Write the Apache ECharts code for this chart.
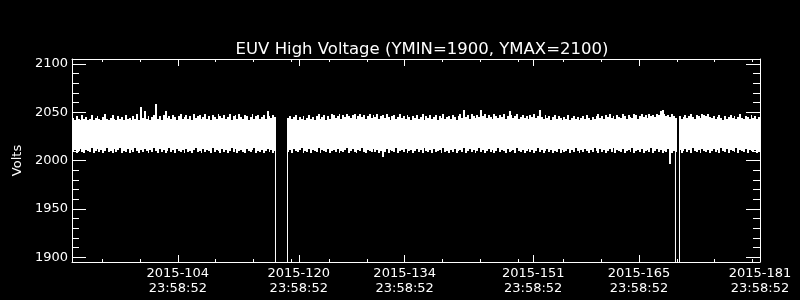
<!DOCTYPE html>
<html><head><meta charset="utf-8">
<script src="https://cdn.jsdelivr.net/npm/echarts@6/dist/echarts.min.js"></script>
<style>html,body{margin:0;padding:0;background:#000}#c{width:800px;height:300px}</style>
</head><body><div id="c"></div>
<script>
// ---------- data ----------
const titleText = 'EUV High Voltage (YMIN=1900, YMAX=2100)';
const yAxisName = 'Volts';
const xRange = [90, 181];            // day of year 2015
const yRange = [1895, 2105];         // volts
const xMajorTicks = [104, 120, 134, 151, 165, 181];
const xTickLabels = ['2015-104\n23:58:52', '2015-120\n23:58:52', '2015-134\n23:58:52',
                     '2015-151\n23:58:52', '2015-165\n23:58:52', '2015-181\n23:58:52'];
const xMinorTicks = [94, 99, 104, 109, 114, 119, 124, 129, 134, 139, 144, 149,
                     155, 160, 165, 170, 175, 180];
const yMajorTicks = [1900, 1950, 2000, 2050, 2100];
const yMinorTicks = [1900, 1910, 1920, 1930, 1940, 1950, 1960, 1970, 1980, 1990, 2000,
                     2010, 2020, 2030, 2040, 2050, 2060, 2070, 2080, 2090, 2100];
const binStartDay = 90;
const binDays = 0.25;
// per-bin maximum of the voltage readings
const bandHigh = [
2044,2042,2046,2043,2042,2047,2043,2045,2042,2043,2047,2042,2044,2046,2043,2042,2045,2048,2043,2042,
2044,2047,2043,2042,2046,2043,2045,2042,2047,2043,2044,2042,2046,2043,2048,2042,2055,2044,2051,2043,
2046,2042,2045,2047,2058,2043,2046,2042,2047,2051,2044,2046,2043,2047,2045,2042,2046,2048,2043,2045,
2047,2043,2046,2042,2048,2044,2046,2047,2043,2045,2048,2043,2046,2042,2047,2045,2043,2048,2046,2044,
2047,2043,2045,2048,2042,2046,2047,2043,2048,2045,2043,2047,2046,2042,2045,2048,2043,2046,2047,2043,
2045,2047,2043,2051,2046,2044,2047,2045,null,null,null,null,null,null,2044,2046,2043,2045,2047,2042,
2045,2043,2046,2042,2044,2047,2043,2045,2042,2046,2048,2043,2045,2047,2042,2046,2043,2048,2047,2044,
2046,2048,2043,2047,2045,2048,2046,2044,2047,2048,2043,2046,2048,2045,2047,2043,2046,2048,2044,2047,
2045,2048,2043,2046,2047,2044,2048,2045,2042,2046,2047,2043,2045,2048,2044,2046,2043,2047,2045,2042,
2046,2044,2047,2043,2045,2048,2042,2046,2044,2047,2043,2045,2047,2042,2046,2044,2048,2043,2045,2046,
2043,2047,2045,2042,2046,2048,2044,2052,2045,2047,2043,2048,2046,2044,2047,2045,2052,2046,2048,2044,
2047,2045,2043,2048,2046,2044,2047,2045,2048,2043,2046,2051,2047,2044,2046,2048,2043,2045,2047,2044,
2046,2043,2047,2045,2048,2044,2046,2052,2045,2043,2047,2044,2046,2042,2045,2047,2043,2046,2044,2042,
2045,2043,2047,2042,2044,2046,2043,2045,2042,2044,2046,2043,2047,2044,2042,2045,2043,2046,2048,2044,
2046,2043,2047,2045,2048,2044,2046,2043,2047,2045,2044,2048,2046,2043,2047,2045,2044,2048,2047,2043,
2046,2048,2045,2047,2044,2048,2046,2047,2045,2048,2047,2051,2052,2048,2046,2047,2045,2048,2046,2044,
null,2046,2043,2045,2047,2044,2046,2048,2045,2043,2047,2046,2044,2048,2047,2046,2048,2045,2044,2046,
2043,2045,2047,2044,2042,2046,2043,2045,2047,2044,2046,2043,2045,2048,2044,2043,2046,2045,2043,2047,
2044,2046,2043,2045
];
// per-bin minimum of the voltage readings
const bandLow = [
2009,2011,2008,2010,2012,2009,2008,2011,2010,2009,2013,2008,2010,2012,2009,2011,2008,2010,2013,2009,
2010,2008,2012,2009,2011,2013,2008,2010,2009,2012,2008,2011,2009,2013,2010,2008,2011,2009,2012,2010,
2008,2011,2009,2013,2010,2008,2012,2009,2011,2008,2010,2013,2009,2011,2008,2012,2010,2009,2011,2008,
2012,2009,2010,2008,2011,2013,2009,2010,2008,2012,2009,2011,2010,2008,2013,2009,2011,2010,2008,2012,
2009,2011,2008,2010,2013,2009,2012,2008,2010,2011,2009,2008,2012,2010,2009,2011,2013,2008,2010,2009,
2011,2008,2010,2012,2009,2011,2008,2010,null,null,null,null,null,null,2009,2011,2008,2012,2010,2009,
2011,2013,2008,2010,2009,2012,2008,2011,2010,2009,2013,2008,2011,2010,2009,2012,2008,2010,2011,2009,
2012,2008,2010,2009,2011,2013,2008,2010,2012,2009,2008,2011,2010,2013,2009,2008,2011,2010,2009,2012,
2009,2011,2008,2010,2004,2009,2012,2008,2011,2010,2009,2013,2008,2010,2011,2009,2012,2008,2010,2011,
2008,2010,2012,2009,2011,2008,2013,2010,2009,2011,2008,2012,2009,2010,2011,2008,2013,2009,2010,2008,
2011,2009,2012,2008,2010,2011,2009,2013,2008,2010,2012,2009,2011,2008,2010,2013,2009,2011,2008,2010,
2012,2009,2011,2008,2010,2013,2009,2011,2010,2008,2012,2009,2010,2011,2008,2013,2010,2009,2011,2008,
2010,2012,2009,2011,2008,2010,2013,2009,2011,2008,2010,2012,2009,2011,2008,2010,2009,2012,2008,2011,
2009,2010,2012,2008,2011,2009,2013,2010,2008,2011,2009,2012,2010,2008,2011,2009,2013,2010,2008,2012,
2009,2011,2008,2010,2012,2009,2013,2008,2011,2010,2009,2012,2008,2010,2011,2009,2013,2008,2010,2011,
2009,2012,2008,2010,2011,2009,2013,2008,2010,2012,2009,2011,2008,2010,2009,2012,1996,2008,2010,2009,
null,2011,2008,2010,2012,2009,2011,2008,2013,2010,2009,2011,2008,2012,2010,2009,2011,2008,2010,2012,
2009,2011,2008,2013,2010,2009,2012,2008,2011,2010,2009,2013,2008,2011,2010,2009,2012,2008,2011,2010,
2009,2011,2008,2010
];
// readings around the two data dropouts (voltage fell to 0)
const dropoutA = [[116.915, 2028], [116.917, 0], [118.502, 0], [118.504, 2028]];
const dropoutB = [[169.821, 2028], [169.823, 0], [170.350, 0], [170.352, 2028]];

// ---------- chart ----------
const bandData = [];
for (let i = 0; i < bandHigh.length; i++) {
  if (bandHigh[i] == null || bandLow[i] == null) continue;
  bandData.push([binStartDay + i * binDays, binStartDay + (i + 1) * binDays, bandLow[i], bandHigh[i]]);
}
const WHITE = '#ffffff';
const FONT = 'DejaVu Sans';
function xAxisDef(pos, ticks, len, showLine, labels) {
  return {
    type: 'value', min: xRange[0], max: xRange[1], position: pos,
    axisLine: { show: showLine, onZero: false, lineStyle: { color: WHITE, width: 1 } },
    axisTick: { show: true, inside: true, length: len, customValues: ticks, lineStyle: { color: WHITE, width: 1 } },
    axisLabel: labels ? {
      show: true, customValues: xMajorTicks, color: WHITE, fontFamily: FONT, fontSize: 13,
      lineHeight: 15, margin: 4,
      formatter: v => { const k = xMajorTicks.indexOf(Math.round(v)); return k >= 0 ? xTickLabels[k] : ''; }
    } : { show: false },
    splitLine: { show: false }
  };
}
function yAxisDef(pos, ticks, len, showLine, labels) {
  const a = {
    type: 'value', min: yRange[0], max: yRange[1], position: pos,
    axisLine: { show: showLine, onZero: false, lineStyle: { color: WHITE, width: 1 } },
    axisTick: { show: true, inside: true, length: len, customValues: ticks, lineStyle: { color: WHITE, width: 1 } },
    axisLabel: labels ? {
      show: true, customValues: yMajorTicks, color: WHITE, fontFamily: FONT, fontSize: 13, margin: 4,
      formatter: v => String(Math.round(v))
    } : { show: false },
    splitLine: { show: false }
  };
  if (labels) {
    a.name = yAxisName; a.nameLocation = 'middle'; a.nameRotate = 90; a.nameGap = 46;
    a.nameTextStyle = { color: WHITE, fontFamily: FONT, fontSize: 13 };
  }
  return a;
}
const chart = echarts.init(document.getElementById('c'), null, { renderer: 'canvas' });
chart.setOption({
  backgroundColor: '#000000',
  animation: false,
  title: {
    text: titleText, left: 417, top: 36, textAlign: 'center',
    textStyle: { color: WHITE, fontFamily: FONT, fontSize: 16.5, fontWeight: 'normal' }
  },
  grid: { left: 72, top: 59, width: 688, height: 203, containLabel: false },
  xAxis: [
    xAxisDef('bottom', xMajorTicks, 7, true, true),
    xAxisDef('bottom', xMinorTicks, 3, false, false),
    xAxisDef('top', xMajorTicks, 7, true, false),
    xAxisDef('top', xMinorTicks, 3, false, false)
  ],
  yAxis: [
    yAxisDef('left', yMajorTicks, 14, true, true),
    yAxisDef('left', yMinorTicks, 7, false, false),
    yAxisDef('right', yMajorTicks, 14, true, false),
    yAxisDef('right', yMinorTicks, 7, false, false)
  ],
  series: [
    {
      type: 'custom', xAxisIndex: 0, yAxisIndex: 0, clip: true,
      encode: { x: [0, 1], y: [2, 3] },
      data: bandData,
      renderItem: function (params, api) {
        const p1 = api.coord([api.value(0), api.value(3)]);
        const p2 = api.coord([api.value(1), api.value(2)]);
        const x0 = Math.round(p1[0]), x1 = Math.round(p2[0]);
        const y0 = Math.round(p1[1]), y1 = Math.round(p2[1]);
        return { type: 'rect', shape: { x: x0, y: y0, width: x1 - x0, height: y1 - y0 }, style: { fill: WHITE } };
      }
    },
    { type: 'line', xAxisIndex: 0, yAxisIndex: 0, data: dropoutA, symbol: 'none', clip: true,
      lineStyle: { color: WHITE, width: 1 } },
    { type: 'line', xAxisIndex: 0, yAxisIndex: 0, data: dropoutB, symbol: 'none', clip: true,
      lineStyle: { color: WHITE, width: 1 } }
  ]
});
</script></body></html>
